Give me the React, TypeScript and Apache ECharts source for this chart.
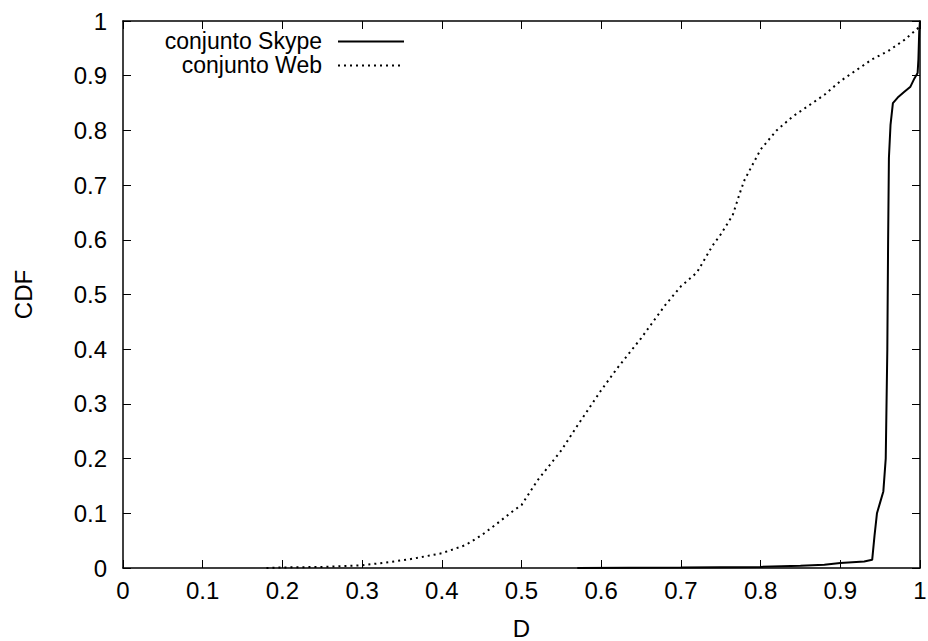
import React, { useEffect, useRef } from "react";
import * as echarts from "echarts";

const xTicks = [0, 0.1, 0.2, 0.3, 0.4, 0.5, 0.6, 0.7, 0.8, 0.9, 1];
const seriesNames = ["conjunto Skype", "conjunto Web"];
const skypeData: number[][] = [
  [0.57, 0], [0.7, 0.001], [0.8, 0.002], [0.85, 0.004], [0.88, 0.006], [0.9, 0.009],
  [0.93, 0.012], [0.94, 0.015], [0.943, 0.06], [0.946, 0.1], [0.95, 0.12], [0.954, 0.14],
  [0.957, 0.2], [0.959, 0.4], [0.96, 0.6], [0.961, 0.75], [0.963, 0.81], [0.966, 0.85],
  [0.972, 0.86], [0.98, 0.87], [0.988, 0.88], [0.993, 0.895], [0.997, 0.905],
  [0.998, 0.93], [0.999, 0.98], [1, 1],
];
const webData: number[][] = [
  [0.18, 0], [0.2, 0.001], [0.25, 0.002], [0.3, 0.005], [0.33, 0.01], [0.36, 0.016],
  [0.4, 0.027], [0.43, 0.042], [0.45, 0.06], [0.47, 0.082], [0.49, 0.105], [0.5, 0.115],
  [0.52, 0.16], [0.55, 0.215], [0.57, 0.26], [0.6, 0.325], [0.62, 0.365], [0.65, 0.42],
  [0.68, 0.48], [0.7, 0.515], [0.72, 0.54], [0.74, 0.59], [0.75, 0.61], [0.765, 0.645],
  [0.775, 0.69], [0.78, 0.71], [0.8, 0.765], [0.82, 0.8], [0.84, 0.825], [0.86, 0.845],
  [0.88, 0.865], [0.9, 0.89], [0.92, 0.91], [0.94, 0.93], [0.96, 0.945], [0.98, 0.965],
  [1.0, 0.99],
];

const FONT = "Liberation Sans, Arial, Helvetica, sans-serif";
const FS = 24;
const LEGEND_FS = 23;

export default function App() {
  const ref = useRef<HTMLDivElement>(null);
  useEffect(() => {
    if (!ref.current) return;
    const chart = echarts.init(ref.current, null, { renderer: "svg" });
    const axisLine = { show: true, onZero: false, lineStyle: { color: "#000", width: 1.5 } };
    const tick = { show: true, inside: true, length: 8, lineStyle: { color: "#000", width: 1 } };
    const label = { color: "#000", fontSize: FS, fontFamily: FONT };
    const fmt = (v: number) => String(+v.toFixed(1));
    chart.setOption({
      animation: false,
      grid: { left: 123, right: 8, top: 21, bottom: 73, containLabel: false, outerBoundsMode: "none" },
      xAxis: [
        {
          type: "value", min: 0, max: 1, interval: 0.1, position: "bottom",
          name: "D", nameLocation: "middle", nameGap: 48,
          nameTextStyle: { color: "#000", fontSize: FS, fontFamily: FONT },
          axisLine, axisTick: tick, splitLine: { show: false },
          axisLabel: { ...label, margin: 10, formatter: fmt },
        },
        {
          type: "value", min: 0, max: 1, interval: 0.1, position: "top",
          axisLine, axisTick: tick, splitLine: { show: false }, axisLabel: { show: false },
        },
      ],
      yAxis: [
        {
          type: "value", min: 0, max: 1, interval: 0.1, position: "left",
          name: "CDF", nameLocation: "middle", nameGap: 88, nameRotate: 90,
          nameTextStyle: { color: "#000", fontSize: FS, fontFamily: FONT },
          axisLine, axisTick: tick, splitLine: { show: false },
          axisLabel: { ...label, margin: 16, formatter: fmt },
        },
        {
          type: "value", min: 0, max: 1, interval: 0.1, position: "right",
          axisLine, axisTick: tick, splitLine: { show: false }, axisLabel: { show: false },
        },
      ],
      series: [
        {
          name: seriesNames[0], type: "line", data: skypeData, showSymbol: false,
          lineStyle: { color: "#000", width: 2 }, xAxisIndex: 0, yAxisIndex: 0,
        },
        {
          name: seriesNames[1], type: "line", data: webData, showSymbol: false,
          lineStyle: { color: "#000", width: 2, type: [2, 4] }, xAxisIndex: 0, yAxisIndex: 0,
        },
      ],
      graphic: [
        {
          type: "text", x: 322, y: 41,
          style: { text: seriesNames[0], fill: "#000", fontSize: LEGEND_FS, lineHeight: 20, fontFamily: FONT, align: "right", verticalAlign: "middle" },
        },
        {
          type: "text", x: 322, y: 65,
          style: { text: seriesNames[1], fill: "#000", fontSize: LEGEND_FS, lineHeight: 20, fontFamily: FONT, align: "right", verticalAlign: "middle" },
        },
        { type: "line", shape: { x1: 338, y1: 41.5, x2: 404, y2: 41.5 }, style: { stroke: "#000", lineWidth: 2 } },
        { type: "line", shape: { x1: 338, y1: 65.5, x2: 404, y2: 65.5 }, style: { stroke: "#000", lineWidth: 2, lineDash: [2, 4] } },
      ],
    });
    return () => chart.dispose();
  }, []);
  return <div ref={ref} style={{ width: 928, height: 641, position: "absolute", left: 0, top: 0 }} />;
}
